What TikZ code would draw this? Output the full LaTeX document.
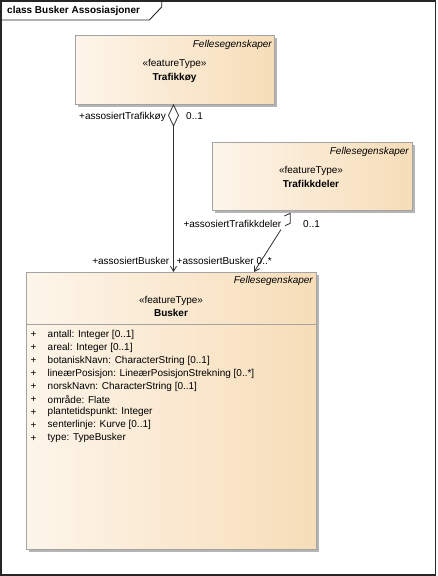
\documentclass[tikz,border=0pt]{standalone}
\usepackage{fontspec}
\setmainfont{Liberation Sans}
\usetikzlibrary{arrows.meta,shadows}

\definecolor{boxL}{HTML}{FDF5EA}
\definecolor{boxR}{HTML}{F7DDB8}
\definecolor{boxB}{HTML}{A3A3A3}
\definecolor{shad}{HTML}{B5B5B5}
\definecolor{lineC}{HTML}{303030}

\begin{document}
\begin{tikzpicture}[x=1pt,y=-1pt,
  base/.style={font=\fontsize{10}{12}\selectfont},
  cls/.style={draw=boxB, line width=0.9pt, left color=boxL, right color=boxR,
    anchor=north west, inner sep=0pt,
    drop shadow={shadow xshift=3pt, shadow yshift=-3pt, fill=shad, opacity=1}},
  txt/.style={base, inner sep=0pt, text=black},
  itxt/.style={txt, font=\fontsize{10}{12}\selectfont\itshape},
  btxt/.style={txt, font=\fontsize{10}{12}\selectfont\bfseries},
  conn/.style={draw=lineC, line width=0.8pt},
  arr/.style={conn, -{Straight Barb[length=5pt,width=6pt]}}
]
\useasboundingbox (0,0) rectangle (437,576);
\fill[white] (0,0) rectangle (437,576);

% frame
\draw[line width=1.5pt, draw=black!85] (0.75,0.75) rectangle (435.6,575.2);
\draw[line width=0.9pt, draw=black!85] (0,20) -- (149.3,20) -- (161.7,7) -- (161.7,0);
\node[btxt, anchor=west] (title) at (7,11) {class Busker Assosiasjoner};

% classes
\node[cls, minimum width=199pt, minimum height=69pt] (trk) at (75,35) {};
\node[cls, minimum width=200pt, minimum height=68pt] (trd) at (212,142) {};
\node[cls, minimum width=290pt, minimum height=277pt] (bus) at (26,272) {};
\draw[draw=boxB, line width=0.9pt] (26,324) -- (316,324);

% Trafikkøy texts
\node[itxt, anchor=east] (trkF) at (272,45) {Fellesegenskaper};
\node[txt] (trkS) at (174.5,64) {«featureType»};
\node[btxt] (trkN) at (174.5,77.5) {Trafikkøy};

% Trafikkdeler texts
\node[itxt, anchor=east] (trdF) at (409,152) {Fellesegenskaper};
\node[txt] (trdS) at (311,170.5) {«featureType»};
\node[btxt] (trdN) at (311,184) {Trafikkdeler};

% Busker texts
\node[itxt, anchor=east] (busF) at (313,281) {Fellesegenskaper};
\node[txt] (busS) at (171,300.5) {«featureType»};
\node[btxt] (busN) at (171,313) {Busker};

\foreach \t [count=\i from 0] in {antall: Integer [0..1], areal: Integer [0..1], botaniskNavn: CharacterString [0..1], lineærPosisjon: LineærPosisjonStrekning [0..*], norskNavn: CharacterString [0..1], område: Flate, plantetidspunkt: Integer, senterlinje: Kurve [0..1], type: TypeBusker}{
  \node[txt] (p\i) at (33.5,{335+12.9*\i}) {+};
  \node[txt, anchor=west] (a\i) at (47.5,{335+12.9*\i}) {\t};
}

% association 1 (aggregation)
\path (trk.south west) ++(98.5,0) coordinate (dtop);
\draw[draw=lineC, line width=0.8pt, fill=white] (dtop) -- ++(5,10.5) -- ++(-5,10.5) coordinate (dbot) -- ++(-5,-10.5) -- cycle;
\draw[arr] (dbot) -- (dbot |- bus.north);
\node[txt, anchor=east] (l1a) at (166,116.5) {+assosiertTrafikkøy};
\node[txt, anchor=west] (l1b) at (186,116.5) {0..1};
\node[txt, anchor=east] (l1c) at (169.5,261) {+assosiertBusker};

% association 2
\coordinate (l2a) at (281,229.5);
\path (bus.north west) ++(228,0) coordinate (l2b);
\draw[conn] (284.3,216) -- (290.3,213.3) -- (290.3,223.3) -- (285,225.7);
\draw[arr] (l2a) -- (l2b);
\node[txt, anchor=east] (l2c) at (281.5,224) {+assosiertTrafikkdeler};
\node[txt, anchor=west] (l2d) at (303,224) {0..1};
\node[txt, anchor=west] (l2e) at (176.5,261) {+assosiertBusker};
\node[txt, anchor=west] (l2f) at (256.5,261) {0..*};
\end{tikzpicture}
\end{document}
